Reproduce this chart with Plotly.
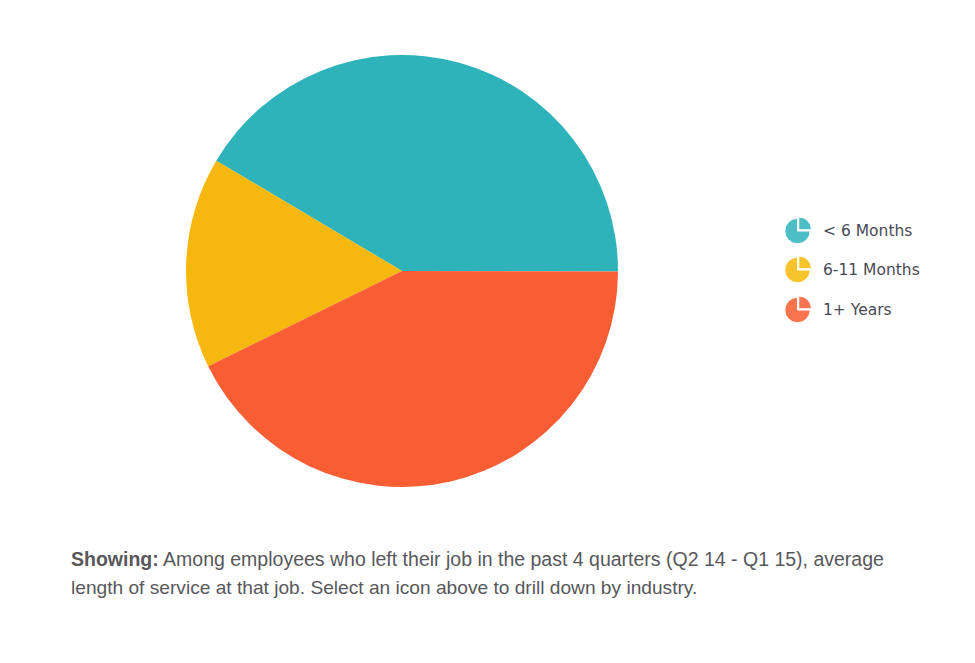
import plotly.graph_objects as go

W, H = 975, 663
PAGE_MARGIN = 8  # the browser's default body margin shifts everything

# Slice shares (percent)
categories = ["< 6 Months", "6-11 Months", "1+ Years"]
shares = [41.5, 15.8, 42.7]
colors = ["#2fb3bb", "#f6b80f", "#f95d33"]
icon_colors = ["#4cbfc6", "#f8c42c", "#fa7450"]
icon_shape = [75, 25]

caption_lines = [
    "<b>Showing:</b> Among employees who left their job in the past 4 quarters (Q2 14 - Q1 15), average",
    "length of service at that job. Select an icon above to drill down by industry.",
]
caption_sizes = [19.5, 19.15]

legend_y = [231, 270, 310]


def box(x0, x1, y0, y1):
    """ Pixel box to paper fractions for a pie domain. """
    return dict(
        x=[(x0 - PAGE_MARGIN) / W, (x1 - PAGE_MARGIN) / W],
        y=[1 - (y1 - PAGE_MARGIN) / H, 1 - (y0 - PAGE_MARGIN) / H],
    )


fig = go.Figure()

fig.add_trace(go.Pie(
    labels=categories, values=shares, sort=False, direction="counterclockwise",
    rotation=-59.3, textinfo="none", hoverinfo="label+percent",
    marker=dict(colors=colors, line=dict(width=0)),
    domain=box(186, 618, 55, 487), showlegend=False,
))

# small pie icons standing in for the legend keys
for name, col, y in zip(categories, icon_colors, legend_y):
    fig.add_trace(go.Pie(
        labels=["rest", "wedge"], values=icon_shape, sort=False, direction="counterclockwise",
        rotation=90, textinfo="none", hoverinfo="skip", pull=[0, 0.14],
        marker=dict(colors=[col, col], line=dict(width=1, color="white")),
        domain=box(783, 812, y - 14.5, y + 14.5), showlegend=False, name=name,
    ))

annotations = []
for name, y in zip(categories, legend_y):
    annotations.append(dict(
        text=name, x=(823 - PAGE_MARGIN - 2) / W, y=1 - (y - PAGE_MARGIN) / H, xref="paper", yref="paper",
        xanchor="left", yanchor="middle", showarrow=False,
        font=dict(family="DejaVu Sans", size=15.5, color="#4a4a55"),
    ))
for line, y, size in zip(caption_lines, [559, 587], caption_sizes):
    annotations.append(dict(
        text=line, x=(71 - PAGE_MARGIN - 2) / W, y=1 - (y - PAGE_MARGIN) / H, xref="paper", yref="paper",
        xanchor="left", yanchor="middle", showarrow=False,
        font=dict(family="Liberation Sans", size=size, color="#58585c"),
    ))

fig.update_layout(
    width=W, height=H, margin=dict(l=0, r=0, t=0, b=0),
    paper_bgcolor="white", annotations=annotations,
)

fig.write_html("out.html")
